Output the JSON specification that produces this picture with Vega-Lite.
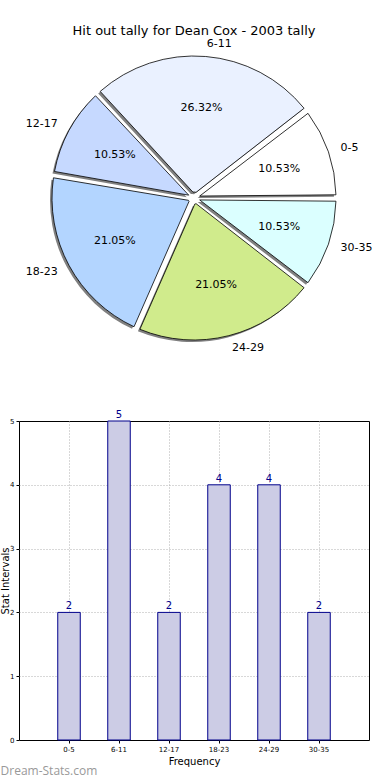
{
  "$schema": "https://vega.github.io/schema/vega-lite/v6.json",
  "padding": {"top": 25, "left": 0, "right": 0, "bottom": 0},
  "background": "white",
  "bounds": "flush",
  "spacing": 61,
  "config": {
    "font": "DejaVu Sans",
    "view": {"stroke": "black", "strokeWidth": 1},
    "axis": {"zindex": 1, "domain": false, "gridColor": "#b0b0b0", "gridDash": [1, 2], "gridWidth": 1, "tickColor": "black", "tickSize": 3, "labelColor": "black", "titleColor": "black", "titleFontWeight": "normal", "titleFontSize": 10}
  },
  "data": {
    "values": [
      {"range": "0-5", "lo": 0, "count": 2, "share": 0.10526},
      {"range": "6-11", "lo": 6, "count": 5, "share": 0.26316},
      {"range": "12-17", "lo": 12, "count": 2, "share": 0.10526},
      {"range": "18-23", "lo": 18, "count": 4, "share": 0.21053},
      {"range": "24-29", "lo": 24, "count": 4, "share": 0.21053},
      {"range": "30-35", "lo": 30, "count": 2, "share": 0.10526}
    ]
  },
  "vconcat": [
    {
      "width": 350,
      "height": 324,
      "view": {"stroke": null},
      "title": {"text": "Hit out tally for Dean Cox - 2003 tally", "fontSize": 13, "fontWeight": "normal", "offset": -2, "color": "black"},
      "encoding": {
        "theta": {"field": "count", "type": "quantitative", "stack": true, "scale": {"range": [1.5708, -4.7124]}},
        "order": {"field": "lo", "type": "quantitative"},
        "detail": {"field": "range", "type": "nominal"}
      },
      "layer": [
        {"mark": {"type": "arc", "outerRadius": 142, "innerRadius": 6, "padAngle": 0.045, "fill": "#808080", "xOffset": -2, "yOffset": 2}},
        {
          "mark": {"type": "arc", "outerRadius": 142, "innerRadius": 6, "padAngle": 0.045, "stroke": "black", "strokeWidth": 0.8},
          "encoding": {
            "fill": {"field": "range", "type": "nominal", "legend": null,
              "scale": {"domain": ["0-5", "6-11", "12-17", "18-23", "24-29", "30-35"],
                        "range": ["#ffffff", "#eaf1ff", "#c6d9ff", "#b3d5ff", "#d0eb8c", "#dbffff"]}}
          }
        },
        {"mark": {"type": "text", "radius": 90, "fontSize": 11, "color": "black"}, "encoding": {"text": {"field": "share", "type": "quantitative", "format": ".2%"}}},
        {"mark": {"type": "text", "radius": 155, "align": "left", "baseline": "middle", "fontSize": 11, "color": "black"},
         "encoding": {"text": {"condition": {"test": "indexof(['12-17','18-23'], datum.range) < 0", "field": "range"}, "value": ""}}},
        {"mark": {"type": "text", "radius": 155, "align": "right", "baseline": "middle", "fontSize": 11, "color": "black"},
         "encoding": {"text": {"condition": {"test": "indexof(['12-17','18-23'], datum.range) >= 0", "field": "range"}, "value": ""}}}
      ]
    },
    {
      "width": 350,
      "height": 319,
      "title": {"text": "Dream-Stats.com", "orient": "bottom", "anchor": "start", "frame": "bounds", "font": "Open Sans", "fontSize": 12, "fontWeight": "normal", "color": "#999999", "offset": 0},
      "encoding": {
        "x": {"field": "range", "type": "nominal", "sort": null,
              "scale": {"paddingInner": 0, "paddingOuter": 0.5},
              "axis": {"title": "Frequency", "labelAngle": 0, "grid": true, "bandPosition": 0.5, "labelFontSize": 7, "labelPadding": 2, "titlePadding": 4}},
        "y": {"field": "count", "type": "quantitative", "scale": {"domain": [0, 5]},
              "axis": {"title": "Stat Intervals", "values": [0, 1, 2, 3, 4, 5], "grid": true, "labelFontSize": 7, "labelPadding": 2, "titlePadding": -1,
                       "gridOpacity": {"condition": {"test": "datum.value == 0 || datum.value == 5", "value": 0}, "value": 1}}}
      },
      "layer": [
        {"mark": {"type": "bar", "width": {"band": 0.45}, "fill": "#cccce5", "stroke": "#00008b", "strokeWidth": 1}},
        {"mark": {"type": "text", "dy": -6, "fontSize": 10, "color": "#00008b"}, "encoding": {"text": {"field": "count", "type": "quantitative"}}}
      ]
    }
  ]
}
